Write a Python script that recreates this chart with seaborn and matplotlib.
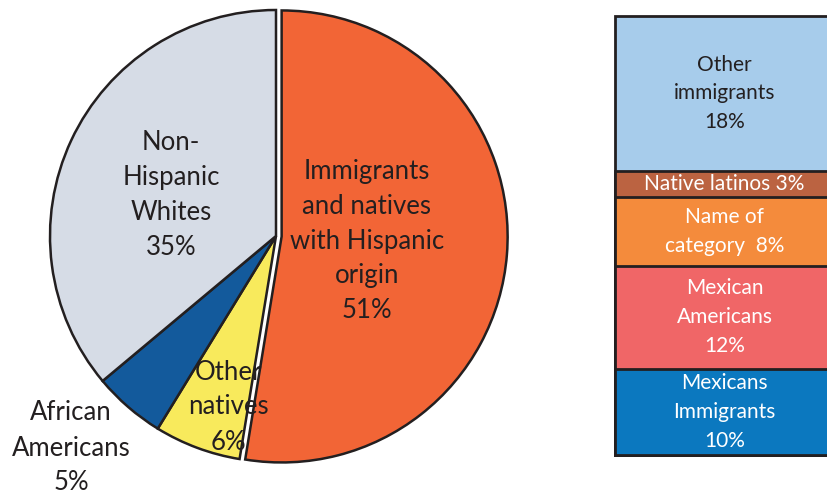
import numpy as np
import matplotlib.pyplot as plt
import seaborn as sns

# pie: population groups (labels carry the shares)
pie_labels = ['Immigrants\nand natives\nwith Hispanic\norigin', 'Other\nnatives',
              'African\nAmericans', 'Non-\nHispanic\nWhites']
pie_values = [51, 6, 5, 35]
pie_colors = ['#f26536', '#f8ea5c', '#135a9c', '#d6dce6']

# stacked bar: breakdown of the 51% (top to bottom)
bar_labels = ['Other\nimmigrants', 'Native latinos', 'Name of\ncategory  ', 'Mexican\nAmericans',
              'Mexicans\nImmigrants']
bar_values = [18, 3, 8, 12, 10]
bar_colors = ['#a7cceb', '#bb6341', '#f48b3c', '#f06667', '#0b78bf']
bar_text_colors = ['#231f20', 'white', 'white', 'white', 'white']

sns.set_theme(style='white')
plt.rcParams['font.family'] = ['Lato', 'DejaVu Sans']
edge = '#231f20'

fig = plt.figure(figsize=(8.27, 4.95), dpi=100)

# ---- pie ----
ax = fig.add_axes([50 / 827, 33 / 495, 452 / 827, 452 / 495])
wedges, _ = ax.pie(pie_values, colors=pie_colors, startangle=90, counterclock=False,
                   explode=[0.025, 0, 0, 0], radius=1,
                   wedgeprops=dict(edgecolor=edge, linewidth=1.8))
for w in wedges:
    w.set_clip_on(False)
ax.set_xlim(-1, 1)
ax.set_ylim(-1, 1)
ax.set_aspect('equal')
ax.set_axis_off()

# label positions (pixel centres in the figure)
pie_label_pos = [(367, 241), (228, 407), (71, 448), (171, 195)]
for lab, val, (px, py) in zip(pie_labels, pie_values, pie_label_pos):
    fig.text(px / 827, 1 - py / 495, f'{lab}\n{val}%', ha='center', va='center',
             fontsize=18.5, color=edge, linespacing=1.5)

# ---- stacked bar (seaborn, overlaid cumulative bars) ----
bx = fig.add_axes([614 / 827, 40 / 495, 220 / 827, 439 / 495])
tops = np.cumsum(bar_values[::-1])[::-1]
for top, c in zip(tops, bar_colors):
    sns.barplot(x=[0], y=[top], color=c, saturation=1, width=1, ax=bx,
                edgecolor=edge, linewidth=2)
bx.set_xlim(-0.505, 0.5)
bx.set_ylim(0, sum(bar_values))
bx.set_axis_off()
for p in bx.patches:
    p.set_clip_on(False)

for lab, val, top, tc in zip(bar_labels, bar_values, tops, bar_text_colors):
    if lab.endswith(' '):
        txt = f'{lab}{val}%'
    elif '\n' in lab:
        txt = f'{lab}\n{val}%'
    else:
        txt = f'{lab} {val}%'
    bx.text(0, top - val / 2, txt, ha='center', va='center', fontsize=15,
            color=tc, linespacing=1.55)

fig.savefig('out.png', dpi=100)
